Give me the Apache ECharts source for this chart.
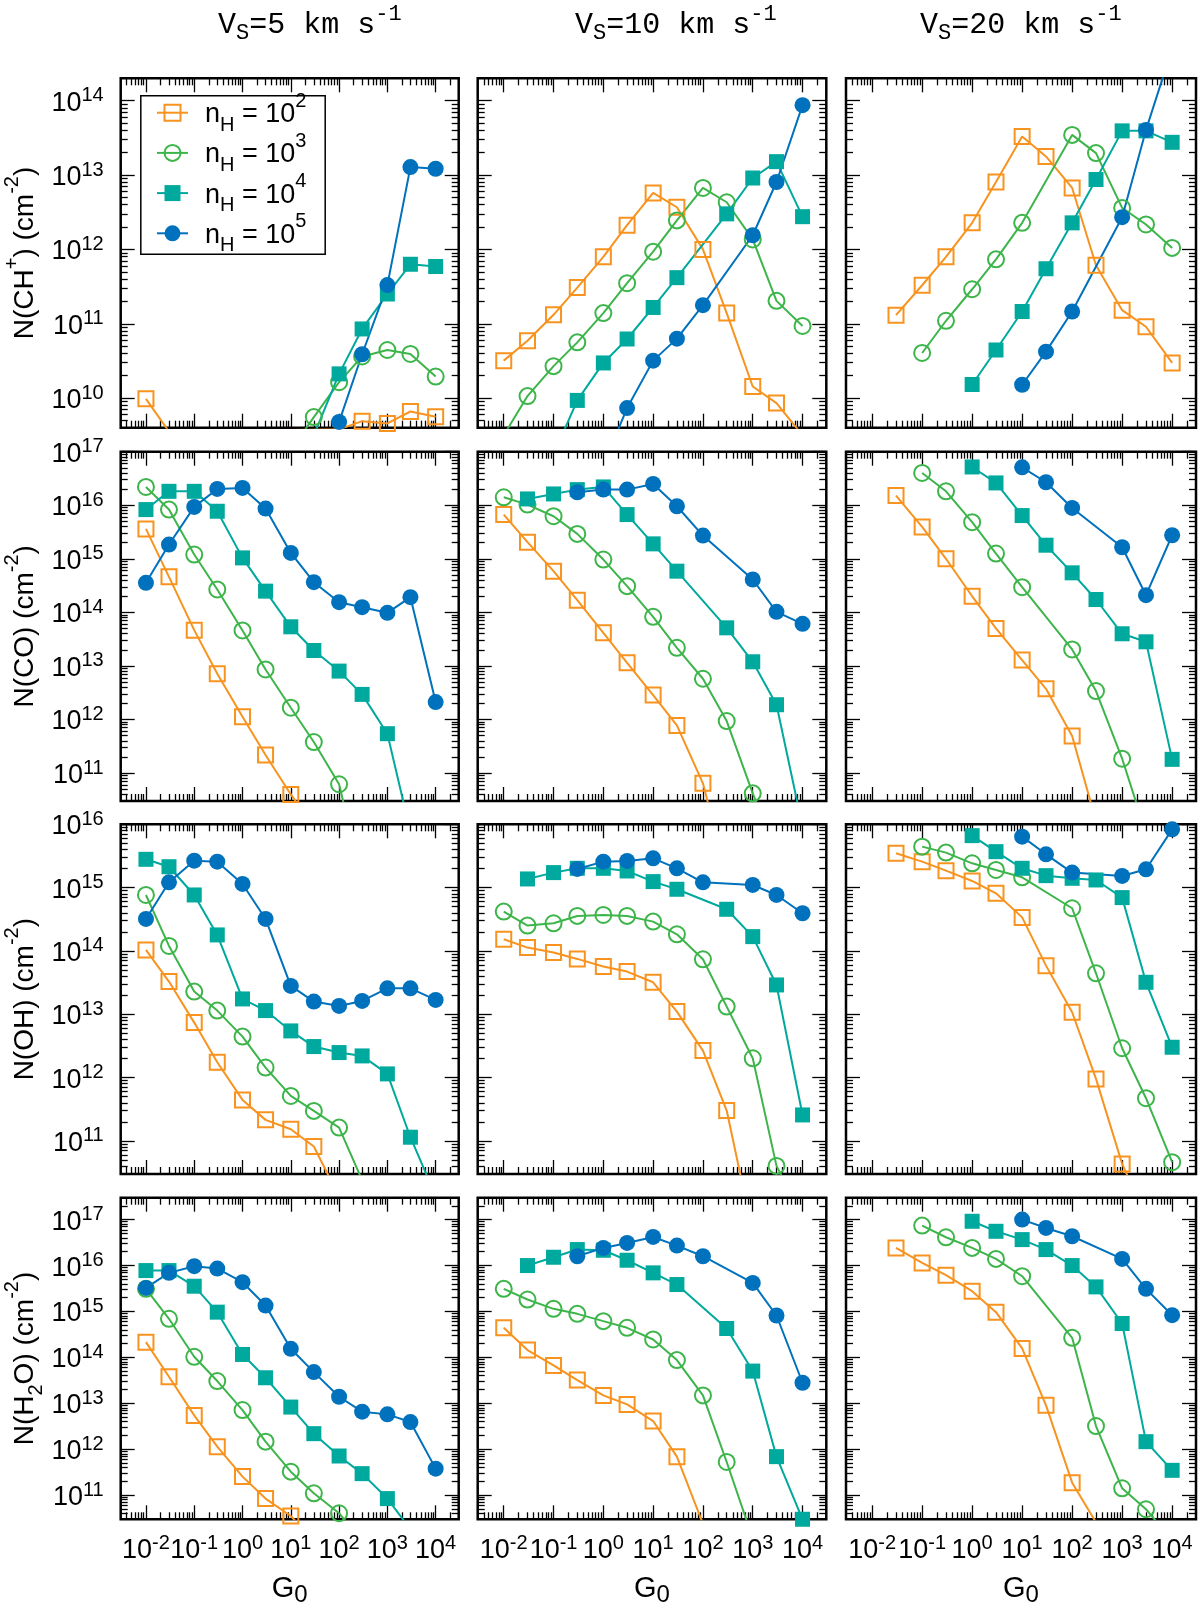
<!DOCTYPE html>
<html>
<head>
<meta charset="utf-8">
<script src="https://cdn.jsdelivr.net/npm/echarts@6/dist/echarts.min.js"></script>
<style>
html, body { margin: 0; padding: 0; background: #fff; }
#chart { width: 1200px; height: 1613px; }
</style>
</head>
<body>
<div id="chart"></div>
<script>
var myChart = echarts.init(document.getElementById('chart'));

// model grid in G0
var G0 = [0.01, 0.03, 0.1, 0.3, 1, 3, 10, 30, 100, 300, 1000, 3000, 10000];
var densityNames = ['nH=1e2', 'nH=1e3', 'nH=1e4', 'nH=1e5'];
var densityExp = ['2', '3', '4', '5'];
var speedLabels = ['5', '10', '20'];

// log10 N (cm-2); rows: nH = 1e2, 1e3, 1e4, 1e5 ; null = no model
var CHp_v5 = [
	[9.99, 9.55, null, null, null, null, null, null, 9.58, 9.69, 9.66, 9.82, 9.75],
	[null, null, null, null, null, null, 9.3, 9.745, 10.214, 10.56, 10.647, 10.594, 10.29],
	[null, null, null, null, null, null, null, 9.5, 10.326, 10.93, 11.40, 11.80, 11.77],
	[null, null, null, null, null, null, null, 9.0, 9.68, 10.59, 11.52, 13.107, 13.085]
];
var CHp_v10 = [
	[10.504, 10.772, 11.12, 11.487, 11.90, 12.326, 12.759, 12.567, 12.0, 11.143, 10.156, 9.933, 9.5],
	[9.5, 10.027, 10.43, 10.75, 11.143, 11.545, 11.969, 12.39, 12.826, 12.634, 12.134, 11.308, 10.97],
	[null, null, 9.24, 9.969, 10.473, 10.795, 11.219, 11.62, null, 12.478, 12.96, 13.18, 12.44],
	[null, null, null, null, 9.1, 9.866, 10.504, 10.80, 11.25, null, 12.19, 12.906, 13.94]
];
var CHp_v20 = [
	[null, 11.116, 11.518, 11.90, 12.357, 12.906, 13.518, 13.25, 12.826, 11.786, 11.183, 10.96, 10.473],
	[null, null, 10.607, 11.04, 11.464, 11.866, 12.357, null, 13.54, 13.295, 12.558, 12.335, 12.02],
	[null, null, null, null, 10.183, 10.647, 11.165, 11.74, 12.357, 12.94, 13.594, 13.594, 13.44],
	[null, null, null, null, null, null, 10.18, 10.625, 11.165, null, 12.433, 13.607, 14.7]
];
var CO_v5 = [
	[15.558, 14.663, 13.668, 12.853, 12.05, 11.336, 10.60, 10.0, null, null, null, null, null],
	[16.342, 15.919, 15.08, 14.427, 13.662, 12.934, 12.219, 11.578, 10.79, 9.0, null, null, null],
	[15.919, 16.26, 16.26, 15.888, 15.017, 14.396, 13.73, 13.288, 12.903, 12.468, 11.734, 9.9, null],
	[14.551, 15.266, 15.969, 16.305, 16.323, 15.938, 15.11, 14.563, 14.19, 14.097, 13.991, 14.284, 12.325]
];
var CO_v10 = [
	[15.826, 15.31, 14.769, 14.228, 13.618, 13.058, 12.455, 11.889, 10.807, 9.1, null, null, null],
	[16.149, 16.012, 15.795, 15.465, 14.986, 14.489, 13.917, 13.338, 12.76, 11.97, 10.62, 9.5, null],
	[null, 16.118, 16.211, 16.292, 16.342, 15.826, 15.279, 14.769, null, 13.711, 13.077, 12.275, 10.0],
	[null, null, null, 16.243, 16.292, 16.292, 16.398, 15.981, 15.434, null, 14.613, 14.01, 13.786]
];
var CO_v20 = [
	[null, 16.18, 15.596, 15.0, 14.30, 13.699, 13.108, 12.573, 11.69, 10.1, null, null, null],
	[null, null, 16.603, 16.261, 15.683, 15.098, 14.47, null, 13.307, 12.53, 11.267, 9.88, null],
	[null, null, null, null, 16.715, 16.417, 15.807, 15.254, 14.738, 14.24, 13.60, 13.45, 11.255],
	[null, null, null, null, null, null, 16.709, 16.429, 15.95, null, 15.216, 14.32, 15.44]
];
var OH_v5 = [
	[14.016, 13.516, 12.868, 12.242, 11.647, 11.332, 11.184, 10.911, 10.12, null, null, null, null],
	[14.884, 14.079, 13.358, 13.058, 12.647, 12.158, 11.71, 11.474, 11.21, 10.38, null, null, null],
	[15.447, 15.33, 14.884, 14.253, 13.242, 13.058, 12.737, 12.49, 12.395, 12.342, 12.058, 11.058, 10.13],
	[14.505, 15.084, 15.426, 15.41, 15.058, 14.505, 13.447, 13.2, 13.132, 13.21, 13.41, 13.41, 13.226]
];
var OH_v10 = [
	[14.184, 14.053, 13.974, 13.874, 13.753, 13.674, 13.505, 13.042, 12.426, 11.479, 9.55, null, null],
	[14.621, 14.4, 14.437, 14.553, 14.568, 14.553, 14.463, 14.263, 13.868, 13.121, 12.305, 10.605, 9.8],
	[null, 15.137, 15.237, 15.305, 15.305, 15.263, 15.095, 14.974, null, 14.658, 14.226, 13.463, 11.41],
	[null, null, null, 15.295, 15.41, 15.42, 15.463, 15.305, 15.084, null, 15.042, 14.884, 14.595]
];
var OH_v20 = [
	[null, 15.542, 15.41, 15.268, 15.105, 14.91, 14.53, 13.768, 13.032, 11.979, 10.637, 9.8, null],
	[null, null, 15.647, 15.553, 15.384, 15.279, 15.163, null, 14.674, 13.647, 12.463, 11.674, 10.663],
	[null, null, null, null, 15.821, 15.568, 15.305, 15.189, 15.147, 15.121, 14.842, 13.505, 12.479],
	[null, null, null, null, null, null, 15.805, 15.526, 15.237, null, 15.184, 15.289, 15.92]
];
var H2O_v5 = [
	[14.333, 13.58, 12.739, 12.058, 11.406, 10.928, 10.55, 10.0, null, null, null, null, null],
	[15.493, 14.841, 14.014, 13.486, 12.855, 12.167, 11.514, 11.043, 10.609, 10.0, null, null, null],
	[15.891, 15.891, 15.551, 14.986, 14.065, 13.558, 12.92, 12.341, 11.855, 11.471, 10.928, 10.26, null],
	[15.514, 15.841, 15.986, 15.935, 15.638, 15.13, 14.188, 13.681, 13.145, 12.819, 12.761, 12.594, 11.58]
];
var H2O_v10 = [
	[14.645, 14.16, 13.826, 13.507, 13.174, 12.978, 12.616, 11.841, 10.38, null, null, null, null],
	[15.493, 15.261, 15.058, 14.949, 14.79, 14.645, 14.391, 13.942, 13.174, 11.725, 10.06, null, null],
	[null, 16.0, 16.181, 16.348, 16.333, 16.116, 15.841, 15.587, null, 14.63, 13.703, 11.841, 10.478],
	[null, null, null, 16.203, 16.384, 16.493, 16.623, 16.435, 16.203, null, 15.623, 14.913, 13.449]
];
var H2O_v20 = [
	[null, 16.384, 16.058, 15.79, 15.442, 14.986, 14.196, 12.957, 11.275, 10.41, null, null, null],
	[null, null, 16.87, 16.616, 16.384, 16.145, 15.768, null, 14.428, 12.507, 11.152, 10.696, 10.03],
	[null, null, null, null, 16.964, 16.746, 16.565, 16.348, 16.0, 15.536, 14.739, 12.167, 11.543],
	[null, null, null, null, null, null, 17.0, 16.819, 16.638, null, 16.145, 15.493, 14.92]
];

var panels = [
	[CHp_v5, CHp_v10, CHp_v20],
	[CO_v5, CO_v10, CO_v20],
	[OH_v5, OH_v10, OH_v20],
	[H2O_v5, H2O_v10, H2O_v20]
];
var yNames = [
	'{m|N(CH}{sup|+}{m|) (cm}{sup|-2}{m|)}',
	'{m|N(CO) (cm}{sup|-2}{m|)}',
	'{m|N(OH) (cm}{sup|-2}{m|)}',
	'{m|N(H}{sub|2}{m|O) (cm}{sup|-2}{m|)}'
];

// axes (log10)
var xRange = [Math.log10(0.003), Math.log10(30000)];
var yRanges = [
	[Math.log10(4e9), Math.log10(2e14)],
	[Math.log10(3e10), 17],
	[Math.log10(3e10), 16],
	[Math.log10(3e10), Math.log10(3e17)]
];

// layout
var colLeft = [120.7, 477.7, 846];
var colWidth = [338, 348.6, 350];
var rowTop = [78.3, 451.7, 824.3, 1197.7];
var rowHeight = [349.4, 349.3, 349.7, 321.6];

var colors = ['#F7931E', '#3DB54A', '#00A99D', '#0071BC'];
var symbols = ['rect', 'circle', 'rect', 'circle'];
var hollow = [true, true, false, false];
var FONT = 'Liberation Sans';
var MONO = 'Liberation Mono';

function majors(lo, hi) {
	var out = [];
	for (var n = Math.ceil(lo - 1e-9); n <= hi + 1e-9; n++) out.push(n);
	return out;
}
function minors(lo, hi) {
	var out = [];
	for (var n = Math.floor(lo); n <= Math.ceil(hi); n++) {
		for (var k = 2; k <= 9; k++) {
			var v = n + Math.log10(k);
			if (v > lo && v < hi) out.push(v);
		}
	}
	return out;
}

// rich token: every token shares the line height, shifted down by its top padding
function tok(family, size, lineH, top, extra) {
	var s = { fontFamily: family, fontSize: size, fontWeight: 'normal', lineHeight: lineH,
		verticalAlign: 'top', padding: [top, 0, 0, 0], color: '#000' };
	if (extra) s.padding = [top, 0, 0, extra];
	return s;
}

var tickRich = {
	m: tok(FONT, 27, 32, 5),
	sup: tok(FONT, 20, 32, 1)
};
var nameRich = {
	m: tok(FONT, 28, 46, 10),
	sup: tok(FONT, 20, 46, 1),
	sub: tok(FONT, 20, 46, 25)
};
function expLabel(v) {
	return '{m|10}{sup|' + Math.round(v) + '}';
}

function makeAxis(dim, pos, g, lo, hi, isMajor, withLabel) {
	var a = {
		type: 'value',
		gridIndex: g,
		position: pos,
		min: lo,
		max: hi,
		axisLine: { show: false, onZero: false },
		splitLine: { show: false },
		axisTick: {
			show: true,
			inside: true,
			length: isMajor ? 14 : 7,
			customValues: isMajor ? majors(lo, hi) : minors(lo, hi),
			lineStyle: { color: '#000', width: 1.3 }
		},
		axisLabel: { show: false },
		silent: true
	};
	if (withLabel) {
		a.axisLabel = {
			show: true,
			customValues: majors(lo, hi),
			formatter: expLabel,
			margin: dim === 'x' ? 13 : 17,
			rich: tickRich
		};
	}
	return a;
}

var grids = [], xAxes = [], yAxes = [], series = [];
for (var r = 0; r < 4; r++) {
	for (var c = 0; c < 3; c++) {
		var g = grids.length;
		grids.push({
			left: colLeft[c], top: rowTop[r], width: colWidth[c], height: rowHeight[r],
			show: true, borderColor: '#000', borderWidth: 2.5,
			backgroundColor: 'transparent', containLabel: false, outerBoundsMode: 'none'
		});
		var xb = makeAxis('x', 'bottom', g, xRange[0], xRange[1], true, r === 3);
		if (r === 3) {
			xb.name = '{m|G}{sub|0}';
			xb.nameLocation = 'middle';
			xb.nameGap = 55;
			xb.nameTextStyle = { rich: {
				m: tok(FONT, 29, 36, 0),
				sub: tok(FONT, 24, 36, 9)
			} };
		}
		xAxes.push(xb);
		xAxes.push(makeAxis('x', 'bottom', g, xRange[0], xRange[1], false, false));
		xAxes.push(makeAxis('x', 'top', g, xRange[0], xRange[1], true, false));
		xAxes.push(makeAxis('x', 'top', g, xRange[0], xRange[1], false, false));

		var yr = yRanges[r];
		var yl = makeAxis('y', 'left', g, yr[0], yr[1], true, c === 0);
		if (c === 0) {
			yl.name = yNames[r];
			yl.nameLocation = 'middle';
			yl.nameRotate = 90;
			yl.nameGap = 73;
			yl.nameTextStyle = { rich: nameRich };
		}
		yAxes.push(yl);
		yAxes.push(makeAxis('y', 'left', g, yr[0], yr[1], false, false));
		yAxes.push(makeAxis('y', 'right', g, yr[0], yr[1], true, false));
		yAxes.push(makeAxis('y', 'right', g, yr[0], yr[1], false, false));

		var set = panels[r][c];
		for (var k = 0; k < 4; k++) {
			var data = G0.map(function (x, i) {
				var v = set[k][i];
				return [Math.log10(x), v === null ? '-' : v];
			});
			series.push({
				type: 'line',
				name: densityNames[k],
				xAxisIndex: 4 * g,
				yAxisIndex: 4 * g,
				data: data,
				connectNulls: true,
				symbol: symbols[k],
				symbolSize: symbols[k] === 'rect' ? 15 : 16,
				showAllSymbol: true,
				clip: true,
				lineStyle: { color: colors[k], width: 2 },
				itemStyle: hollow[k]
					? { color: 'rgba(255,255,255,0)', borderColor: colors[k], borderWidth: 2 }
					: { color: colors[k] },
				emphasis: { disabled: true },
				silent: true
			});
		}
	}
}

// column titles
var titleLeft = [218, 575, 920];
var titles = speedLabels.map(function (s, i) {
	return {
		text: '{m|V}{sub|S}{m|=' + s + ' km s}{sup|-1}',
		left: titleLeft[i],
		top: 3,
		padding: 0,
		textStyle: { fontWeight: 'normal', rich: {
			m: tok(MONO, 30, 44, 7),
			sup: tok(MONO, 22, 44, 0),
			sub: tok(MONO, 22, 44, 19)
		} }
	};
});

myChart.setOption({
	animation: false,
	backgroundColor: '#fff',
	title: titles,
	legend: {
		data: densityNames,
		orient: 'vertical',
		left: 156,
		top: 90.7,
		itemWidth: 31,
		itemHeight: 20,
		itemGap: -4.3,
		padding: 0,
		selectedMode: false,
		formatter: function (name) {
			return '{m0|n}{sub|H}{m| = 10}{sup|' + densityExp[densityNames.indexOf(name)] + '}';
		},
		textStyle: { rich: {
			m0: tok(FONT, 27, 44, 10.5, 12),
			m: tok(FONT, 27, 44, 10.5),
			sup: tok(FONT, 20, 44, 0.5),
			sub: tok(FONT, 20, 44, 24.5)
		} }
	},
	// legend frame
	graphic: [{
		type: 'rect',
		left: 138.3,
		top: 93.3,
		shape: { width: 184.4, height: 158.4 },
		style: { fill: 'none', stroke: '#000', lineWidth: 1.5 },
		silent: true
	}],
	grid: grids,
	xAxis: xAxes,
	yAxis: yAxes,
	series: series
});

window.addEventListener('resize', function () {
	myChart.resize();
});
</script>
</body>
</html>
